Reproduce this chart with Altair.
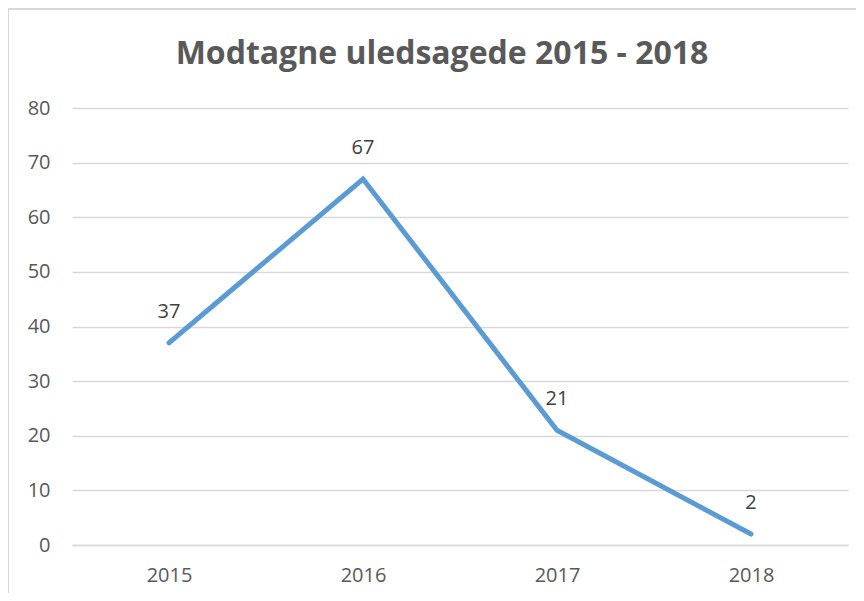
import altair as alt
import pandas as pd

years = ["2015", "2016", "2017", "2018"]
values = [37, 67, 21, 2]
title_text = "Modtagne uledsagede 2015 - 2018"

df = pd.DataFrame({"year": years, "value": values})

FONT = "Open Sans"
GRID = "#D9D9D9"
TXT = "#595959"

base = alt.Chart(df)

x = alt.X("year:N", sort=years, title=None,
          scale=alt.Scale(type="point", padding=0.5),
          axis=alt.Axis(labelAngle=0, labelFont=FONT, labelFontSize=20, labelColor=TXT,
                        labelPadding=20, ticks=False, domain=True, domainColor=GRID,
                        domainWidth=1.5, grid=False))
y = alt.Y("value:Q", title=None,
          scale=alt.Scale(domain=[0, 80], nice=False),
          axis=alt.Axis(values=list(range(0, 81, 10)), labelFont=FONT, labelFontSize=20,
                        labelColor=TXT, labelPadding=22, ticks=False, domain=False,
                        grid=True, gridColor=GRID, gridWidth=1.3))

line = base.mark_line(color="#5B9BD5", strokeWidth=5, strokeCap="round",
                      strokeJoin="miter").encode(x=x, y=y)
labels = base.mark_text(font=FONT, fontSize=20, color="#404040", baseline="alphabetic",
                        dy=-25).encode(x=alt.X("year:N", sort=years), y="value:Q",
                                       text="value:Q")

frame_left = base.mark_rule(color=GRID, strokeWidth=1.5).encode(
    x=alt.value(-64), y=alt.value(-99), y2=alt.value(600))
frame_top = base.mark_rule(color=GRID, strokeWidth=1.5).encode(
    x=alt.value(-64), x2=alt.value(900), y=alt.value(-99))

chart = alt.layer(frame_left, frame_top, line, labels).properties(
    width=776, height=437,
    title=alt.TitleParams(title_text, font=FONT, fontSize=32, fontWeight="bold",
                          color=TXT, anchor="middle", dx=-18, offset=-88,
                          baseline="alphabetic"),
    autosize=alt.AutoSizeParams(type="none"),
    padding={"left": 64, "top": 100, "right": 8, "bottom": 48},
    background="white",
).configure_view(stroke=None)

chart.save("out.html", embed_options={"renderer": "svg", "actions": False})
